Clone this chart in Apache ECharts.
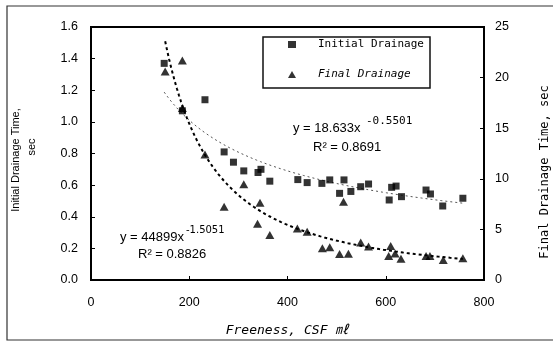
<!DOCTYPE html>
<html>
<head>
<meta charset="utf-8">
<script src="https://cdn.jsdelivr.net/npm/echarts@6/dist/echarts.min.js"></script>
<style>
  html, body { margin: 0; padding: 0; background: #fff; }
  #chart { width: 553px; height: 345px; }
</style>
</head>
<body>
<div id="chart"></div>
<script>
// Initial drainage time (sec, left axis) against freeness (CSF mL)
const initialFreeness = [149, 186, 232, 271, 290, 311, 340, 346, 364, 421, 440, 470, 486, 515, 506, 529, 549, 565, 607, 612, 621, 632, 682, 691, 716, 757];
const initialTime     = [1.37, 1.07, 1.14, 0.81, 0.745, 0.69, 0.68, 0.70, 0.625, 0.635, 0.616, 0.611, 0.633, 0.633, 0.548, 0.56, 0.59, 0.607, 0.506, 0.586, 0.594, 0.527, 0.569, 0.544, 0.468, 0.517];

// Final drainage time (sec, right axis) against freeness (CSF mL)
const finalFreeness = [151, 186, 186, 232, 271, 311, 344, 339, 364, 420, 440, 471, 486, 506, 524, 514, 549, 565, 610, 606, 619, 631, 682, 690, 717, 757];
const finalTime     = [20.6, 21.7, 17.0, 12.4, 7.25, 9.45, 7.64, 5.55, 4.45, 5.1, 4.77, 3.13, 3.23, 2.57, 2.6, 7.74, 3.7, 3.3, 3.36, 2.37, 2.63, 2.1, 2.37, 2.37, 1.98, 2.14];

// Power-law trendlines y = a * x^b, coefficients as printed on the chart
const initialFit = [18.633, -0.5501];
const finalFit   = [44899, -1.5051];

// Axis tick labels
const xTickLabels     = ['0', '200', '400', '600', '800'];
const leftTickLabels  = ['0.0', '0.2', '0.4', '0.6', '0.8', '1.0', '1.2', '1.4', '1.6'];
const rightTickLabels = ['0', '5', '10', '15', '20', '25'];

const zip = (xs, ys) => xs.map((x, i) => [x, ys[i]]);

function powerCurve(coef, xs) {
  const lo = Math.min(...xs), hi = Math.max(...xs);
  const pts = [];
  for (let x = lo; x < hi; x += 4) pts.push([x, coef[0] * Math.pow(x, coef[1])]);
  pts.push([hi, coef[0] * Math.pow(hi, coef[1])]);
  return pts;
}

const SANS = '"Liberation Sans", Arial, sans-serif';
const DSANS = '"DejaVu Sans", sans-serif';
const MONO = '"DejaVu Sans Mono", "Noto Sans CJK KR", monospace';

const tickLabel = { color: '#000', fontFamily: SANS, fontSize: 12.5 };

const chart = echarts.init(document.getElementById('chart'), null, { renderer: 'canvas' });

chart.setOption({
  animation: false,
  backgroundColor: '#fff',
  grid: {
    left: 91, right: 69, top: 27, bottom: 65,
    show: true, borderColor: '#000', borderWidth: 2, backgroundColor: 'transparent'
  },
  legend: {
    orient: 'vertical',
    left: 288, top: 39,
    padding: 0,
    itemWidth: 8, itemHeight: 7,
    itemGap: 19,
    textStyle: { color: '#000', fontFamily: MONO, fontSize: 11, padding: [0, 0, 0, 17] },
    data: [
      { name: 'Initial Drainage', icon: 'rect' },
      { name: 'Final Drainage', icon: 'triangle', textStyle: { fontStyle: 'italic' } }
    ]
  },
  xAxis: {
    type: 'value', min: 0, max: 800, interval: 200,
    axisLine: { show: true, lineStyle: { color: '#000', width: 2 } },
    axisTick: { show: true, inside: true, length: 4, lineStyle: { color: '#000', width: 1 } },
    splitLine: { show: false },
    axisLabel: Object.assign({ margin: 16, formatter: v => xTickLabels[Math.round(v / 200)] }, tickLabel)
  },
  yAxis: [
    {
      type: 'value', position: 'left', min: 0, max: 1.6, interval: 0.2,
      axisLine: { show: true, lineStyle: { color: '#000', width: 2 } },
      axisTick: { show: true, inside: true, length: 4, lineStyle: { color: '#000', width: 1 } },
      splitLine: { show: false },
      axisLabel: Object.assign({ margin: 13, formatter: v => leftTickLabels[Math.round(v / 0.2)] }, tickLabel)
    },
    {
      type: 'value', position: 'right', min: 0, max: 25, interval: 5,
      axisLine: { show: true, lineStyle: { color: '#000', width: 2 } },
      axisTick: { show: true, inside: true, length: 4, lineStyle: { color: '#000', width: 1 } },
      splitLine: { show: false },
      axisLabel: Object.assign({ margin: 11, formatter: v => rightTickLabels[Math.round(v / 5)] }, tickLabel)
    }
  ],
  series: [
    {
      name: 'Initial Drainage fit', type: 'line', yAxisIndex: 0,
      data: powerCurve(initialFit, initialFreeness),
      showSymbol: false, silent: true, z: 1,
      lineStyle: { color: '#555', width: 1, type: [2, 3] }
    },
    {
      name: 'Final Drainage fit', type: 'line', yAxisIndex: 1,
      data: powerCurve(finalFit, finalFreeness),
      showSymbol: false, silent: true, z: 1,
      lineStyle: { color: '#000', width: 2, type: [3, 3] }
    },
    {
      name: 'Initial Drainage', type: 'scatter', yAxisIndex: 0,
      data: zip(initialFreeness, initialTime),
      symbol: 'rect', symbolSize: 7, z: 3,
      itemStyle: { color: '#000' }
    },
    {
      name: 'Final Drainage', type: 'scatter', yAxisIndex: 1,
      data: zip(finalFreeness, finalTime),
      symbol: 'triangle', symbolSize: [9, 8], z: 3,
      itemStyle: { color: '#000' }
    }
  ],
  graphic: [
    // outer frame
    { type: 'rect', shape: { x: 7, y: 6, width: 560, height: 334 },
      style: { fill: 'none', stroke: '#333', lineWidth: 1.2 }, silent: true },
    // legend box
    { type: 'rect', shape: { x: 263, y: 37, width: 167, height: 51 },
      style: { fill: 'none', stroke: '#111', lineWidth: 1.5 }, silent: true },
    // axis titles
    { type: 'text', x: 16, y: 160, rotation: Math.PI / 2,
      style: { text: 'Initial Drainage Time,', font: '11px ' + SANS, fill: '#000', align: 'center', verticalAlign: 'middle' } },
    { type: 'text', x: 32, y: 147, rotation: Math.PI / 2,
      style: { text: 'sec', font: '11px ' + SANS, fill: '#000', align: 'center', verticalAlign: 'middle' } },
    { type: 'text', x: 545, y: 172, rotation: Math.PI / 2,
      style: { text: 'Final Drainage Time, sec', font: '12px ' + MONO, fill: '#000', align: 'center', verticalAlign: 'middle' } },
    { type: 'text', x: 287, y: 331,
      style: { text: 'Freeness, CSF ㎖', font: 'italic 13px ' + MONO, fill: '#000', align: 'center', verticalAlign: 'middle' } },
    // trendline equations
    { type: 'text', x: 293, y: 128,
      style: { text: 'y = 18.633x', font: '13px ' + SANS, fill: '#000', align: 'left', verticalAlign: 'middle' } },
    { type: 'text', x: 366, y: 121,
      style: { text: '-0.5501', font: '11px ' + MONO, fill: '#000', align: 'left', verticalAlign: 'middle' } },
    { type: 'text', x: 313, y: 147,
      style: { text: 'R² = 0.8691', font: '13px ' + SANS, fill: '#000', align: 'left', verticalAlign: 'middle' } },
    { type: 'text', x: 120, y: 237,
      style: { text: 'y = 44899x', font: '13px ' + SANS, fill: '#000', align: 'left', verticalAlign: 'middle' } },
    { type: 'text', x: 186, y: 230,
      style: { text: '-1.5051', font: '10px ' + DSANS, fill: '#000', align: 'left', verticalAlign: 'middle' } },
    { type: 'text', x: 138, y: 254,
      style: { text: 'R² = 0.8826', font: '13px ' + SANS, fill: '#000', align: 'left', verticalAlign: 'middle' } }
  ]
});
</script>
</body>
</html>
